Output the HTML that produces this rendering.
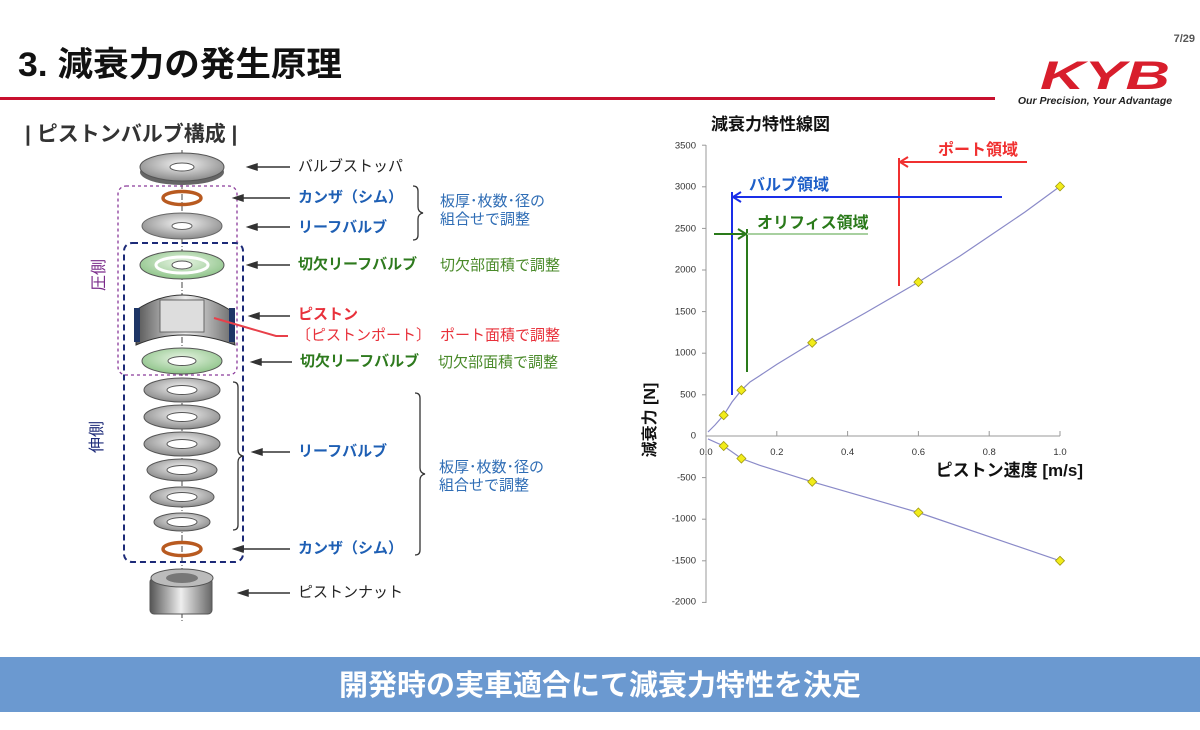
<!DOCTYPE html>
<html><head><meta charset="utf-8"><style>
html,body{margin:0;padding:0;background:#fff}
svg{display:block}
text{font-family:"Liberation Sans","Noto Sans CJK JP",sans-serif}
</style></head><body>
<svg width="1200" height="730" viewBox="0 0 1200 730" xmlns="http://www.w3.org/2000/svg">
<defs>
<radialGradient id="mg" cx="50%" cy="40%" r="60%"><stop offset="0" stop-color="#f4f4f4"/><stop offset="1" stop-color="#8a8a8a"/></radialGradient>
<radialGradient id="gg" cx="50%" cy="40%" r="60%"><stop offset="0" stop-color="#e8f5e4"/><stop offset="1" stop-color="#8fc48a"/></radialGradient>
<linearGradient id="pg" x1="0" x2="1"><stop offset="0" stop-color="#555"/><stop offset="0.5" stop-color="#eee"/><stop offset="1" stop-color="#666"/></linearGradient>
</defs>
<!-- header -->
<text x="18" y="76" font-size="34" font-weight="bold" fill="#111" textLength="324" lengthAdjust="spacingAndGlyphs">3. 減衰力の発生原理</text>
<rect x="0" y="97" width="995" height="3" fill="#c8102e"/>
<text x="1195" y="42" font-size="11" fill="#555" text-anchor="end" font-weight="bold">7/29</text>
<text x="1040" y="89" font-size="40" font-weight="bold" font-style="italic" fill="#d81e2c" textLength="130" lengthAdjust="spacingAndGlyphs">KYB</text>
<text x="1095" y="104" font-size="10.5" font-style="italic" fill="#222" text-anchor="middle" font-weight="bold">Our Precision, Your Advantage</text>
<!-- section title -->
<text x="25" y="141" font-size="21" font-weight="bold" fill="#333">| ピストンバルブ構成 |</text>

<!-- left diagram -->
<line x1="182" y1="150" x2="182" y2="622" stroke="#444" stroke-width="1" stroke-dasharray="6,2,1,2"/>
<rect x="118" y="186" width="119" height="189" rx="8" fill="none" stroke="#8a3a9a" stroke-width="1.3" stroke-dasharray="3,3"/>
<rect x="124" y="243" width="119" height="319" rx="8" fill="none" stroke="#1c2a78" stroke-width="2" stroke-dasharray="6,4"/>
<ellipse cx="182" cy="172" rx="42" ry="13" fill="#666"/>
<ellipse cx="182" cy="167" rx="42" ry="14" fill="url(#mg)" stroke="#555"/>
<ellipse cx="182" cy="167" rx="12" ry="4" fill="#fff" stroke="#555"/>
<ellipse cx="182" cy="198" rx="19" ry="6.5" fill="none" stroke="#b85a20" stroke-width="3.5"/>
<ellipse cx="182" cy="226" rx="40" ry="13" fill="url(#mg)" stroke="#666"/>
<ellipse cx="182" cy="226" rx="10" ry="3.5" fill="#fff" stroke="#666"/>
<ellipse cx="182" cy="265" rx="42" ry="14" fill="url(#gg)" stroke="#555"/>
<ellipse cx="182" cy="265" rx="26" ry="8" fill="none" stroke="#fff" stroke-width="3"/>
<ellipse cx="182" cy="265" rx="10" ry="4" fill="#fff" stroke="#555"/>
<path d="M136 310 Q182 280 230 310 L235 345 Q182 325 136 345 Z" fill="url(#pg)" stroke="#333"/>
<rect x="134" y="308" width="6" height="34" fill="#1e3566"/>
<rect x="229" y="308" width="6" height="34" fill="#1e3566"/>
<rect x="160" y="300" width="44" height="32" fill="#ddd" stroke="#666"/>
<ellipse cx="182" cy="361" rx="40" ry="13" fill="url(#gg)" stroke="#555"/>
<ellipse cx="182" cy="361" rx="14" ry="4.5" fill="#fff" stroke="#555"/>
<g stroke="#555" fill="url(#mg)">
<ellipse cx="182" cy="390" rx="38" ry="12"/><ellipse cx="182" cy="417" rx="38" ry="12"/>
<ellipse cx="182" cy="444" rx="38" ry="12"/><ellipse cx="182" cy="470" rx="35" ry="11"/>
<ellipse cx="182" cy="497" rx="32" ry="10"/><ellipse cx="182" cy="522" rx="28" ry="9"/>
</g>
<g stroke="#555" fill="#fff">
<ellipse cx="182" cy="390" rx="15" ry="4.5"/><ellipse cx="182" cy="417" rx="15" ry="4.5"/>
<ellipse cx="182" cy="444" rx="15" ry="4.5"/><ellipse cx="182" cy="470" rx="15" ry="4.5"/>
<ellipse cx="182" cy="497" rx="15" ry="4.5"/><ellipse cx="182" cy="522" rx="15" ry="4.5"/>
</g>
<ellipse cx="182" cy="549" rx="19" ry="6.5" fill="none" stroke="#b85a20" stroke-width="3.5"/>
<rect x="150" y="578" width="62" height="36" rx="4" fill="url(#pg)" stroke="#555"/>
<ellipse cx="182" cy="578" rx="31" ry="9" fill="#bbb" stroke="#555"/>
<ellipse cx="182" cy="578" rx="16" ry="5" fill="#777"/>

<text x="100" y="275" font-size="16" fill="#7a2a8a" text-anchor="middle" transform="rotate(-90 100 275)" dominant-baseline="middle">圧側</text>
<text x="98" y="437" font-size="16" fill="#1c2a78" text-anchor="middle" transform="rotate(-90 98 437)" dominant-baseline="middle">伸側</text>

<g stroke="#333" stroke-width="1.5" fill="#333">
<line x1="256" y1="167" x2="290" y2="167"/><path d="M248 167 l9 -3 v6z"/>
<line x1="240" y1="198" x2="290" y2="198"/><path d="M234 198 l9 -3 v6z"/>
<line x1="256" y1="227" x2="290" y2="227"/><path d="M248 227 l9 -3 v6z"/>
<line x1="256" y1="265" x2="290" y2="265"/><path d="M248 265 l9 -3 v6z"/>
<line x1="258" y1="316" x2="290" y2="316"/><path d="M250 316 l9 -3 v6z"/>
<line x1="260" y1="362" x2="292" y2="362"/><path d="M252 362 l9 -3 v6z"/>
<line x1="261" y1="452" x2="290" y2="452"/><path d="M253 452 l9 -3 v6z"/>
<line x1="240" y1="549" x2="290" y2="549"/><path d="M234 549 l9 -3 v6z"/>
<line x1="247" y1="593" x2="290" y2="593"/><path d="M239 593 l9 -3 v6z"/>
</g>
<path d="M288 336 H276 L214 318" stroke="#e8404a" stroke-width="2" fill="none"/>
<path d="M413 186 q5 0 5 5 v16 q0 5 5 6 q-5 1 -5 6 v16 q0 5 -5 5" stroke="#333" fill="none" stroke-width="1.3"/>
<path d="M233 382 q5 0 5 5 v63 q0 5 5 6 q-5 1 -5 6 v63 q0 5 -5 5" stroke="#333" fill="none" stroke-width="1.3"/>
<path d="M415 393 q5 0 5 5 v70 q0 5 5 6 q-5 1 -5 6 v70 q0 5 -5 5" stroke="#333" fill="none" stroke-width="1.3"/>

<g font-size="15" dominant-baseline="middle">
<text x="298" y="167" fill="#222">バルブストッパ</text>
<text x="298" y="198" fill="#1e5fb4" font-weight="bold">カンザ（シム）</text>
<text x="298" y="228" fill="#1e5fb4" font-weight="bold">リーフバルブ</text>
<text x="298" y="265" fill="#2e7a1e" font-weight="bold">切欠リーフバルブ</text>
<text x="298" y="315" fill="#e8303a" font-weight="bold">ピストン</text>
<text x="296" y="336" fill="#e8303a">〔ピストンポート〕</text>
<text x="300" y="362" fill="#2e7a1e" font-weight="bold">切欠リーフバルブ</text>
<text x="298" y="452" fill="#1e5fb4" font-weight="bold">リーフバルブ</text>
<text x="298" y="549" fill="#1e5fb4" font-weight="bold">カンザ（シム）</text>
<text x="298" y="593" fill="#222">ピストンナット</text>
<text x="440" y="202" fill="#2f6db5">板厚･枚数･径の</text>
<text x="440" y="220" fill="#2f6db5">組合せで調整</text>
<text x="440" y="266" fill="#4a8a2a">切欠部面積で調整</text>
<text x="440" y="336" fill="#e8303a">ポート面積で調整</text>
<text x="438" y="363" fill="#4a8a2a">切欠部面積で調整</text>
<text x="439" y="468" fill="#2f6db5">板厚･枚数･径の</text>
<text x="439" y="486" fill="#2f6db5">組合せで調整</text>
</g>

<!-- chart -->
<text x="711" y="130" font-size="17" font-weight="bold" fill="#111">減衰力特性線図</text>
<g stroke="#999" stroke-width="1">
<line x1="706" y1="145" x2="706" y2="603"/>
<line x1="706" y1="436" x2="1060" y2="436"/>
<line x1="702" y1="145.2" x2="706" y2="145.2"/><line x1="702" y1="186.8" x2="706" y2="186.8"/>
<line x1="702" y1="228.4" x2="706" y2="228.4"/><line x1="702" y1="270" x2="706" y2="270"/>
<line x1="702" y1="311.6" x2="706" y2="311.6"/><line x1="702" y1="353.2" x2="706" y2="353.2"/>
<line x1="702" y1="394.8" x2="706" y2="394.8"/><line x1="702" y1="477.6" x2="706" y2="477.6"/>
<line x1="702" y1="519.2" x2="706" y2="519.2"/><line x1="702" y1="560.8" x2="706" y2="560.8"/>
<line x1="702" y1="602.4" x2="706" y2="602.4"/>
<line x1="776.8" y1="431" x2="776.8" y2="436"/><line x1="847.6" y1="431" x2="847.6" y2="436"/>
<line x1="918.4" y1="431" x2="918.4" y2="436"/><line x1="989.2" y1="431" x2="989.2" y2="436"/>
<line x1="1060" y1="431" x2="1060" y2="436"/>
</g>
<g font-size="9.5" fill="#333" text-anchor="end" dominant-baseline="middle">
<text x="696" y="146">3500</text><text x="696" y="187">3000</text><text x="696" y="229">2500</text>
<text x="696" y="270">2000</text><text x="696" y="312">1500</text><text x="696" y="353">1000</text>
<text x="696" y="395">500</text><text x="696" y="436">0</text><text x="696" y="478">-500</text>
<text x="696" y="519">-1000</text><text x="696" y="561">-1500</text><text x="696" y="602">-2000</text>
</g>
<g font-size="9.5" fill="#333" text-anchor="middle">
<text x="706" y="455">0.0</text><text x="776.8" y="455">0.2</text><text x="847.6" y="455">0.4</text>
<text x="918.4" y="455">0.6</text><text x="989.2" y="455">0.8</text><text x="1060" y="455">1.0</text>
</g>
<text x="1083" y="476" font-size="17" font-weight="bold" fill="#111" text-anchor="end">ピストン速度 [m/s]</text>
<text x="651" y="420" font-size="16" font-weight="bold" fill="#111" text-anchor="middle" transform="rotate(-90 651 420)" dominant-baseline="middle">減衰力 [N]</text>

<polyline fill="none" stroke="#8a8ac8" stroke-width="1.2" points="708,432 715,425 723.7,415.2 732,402 741.4,390.2 750,382 759.1,376.1 776.8,364.4 812.2,342.8 865.3,312.9 918.4,282.1 960,256 989.2,236.3 1025,212 1060,186.4"/>
<polyline fill="none" stroke="#8a8ac8" stroke-width="1.2" points="708,438.9 723.7,446 741.4,458.5 759.1,465.1 812.2,481.8 918.4,512.5 1060,560.8"/>
<g fill="#f2ec1a" stroke="#a09a10" stroke-width="0.8">
<path d="M723.7 410.7 l4.5 4.5 l-4.5 4.5 l-4.5 -4.5z"/><path d="M741.4 385.7 l4.5 4.5 l-4.5 4.5 l-4.5 -4.5z"/>
<path d="M812.2 338.3 l4.5 4.5 l-4.5 4.5 l-4.5 -4.5z"/><path d="M918.4 277.6 l4.5 4.5 l-4.5 4.5 l-4.5 -4.5z"/>
<path d="M1060 181.9 l4.5 4.5 l-4.5 4.5 l-4.5 -4.5z"/>
<path d="M723.7 441.5 l4.5 4.5 l-4.5 4.5 l-4.5 -4.5z"/><path d="M741.4 454 l4.5 4.5 l-4.5 4.5 l-4.5 -4.5z"/>
<path d="M812.2 477.3 l4.5 4.5 l-4.5 4.5 l-4.5 -4.5z"/><path d="M918.4 508 l4.5 4.5 l-4.5 4.5 l-4.5 -4.5z"/>
<path d="M1060 556.3 l4.5 4.5 l-4.5 4.5 l-4.5 -4.5z"/>
</g>
<g stroke-width="2" fill="none">
<line x1="899" y1="158" x2="899" y2="286" stroke="#f03030"/>
<line x1="899" y1="162" x2="1027" y2="162" stroke="#f03030"/>
<path d="M908 157 L900 162 L908 167" stroke="#f03030"/>
<line x1="732" y1="192" x2="732" y2="395" stroke="#1a2ee8"/>
<line x1="732" y1="197" x2="1002" y2="197" stroke="#1a2ee8"/>
<path d="M741 192 L733 197 L741 202" stroke="#1a2ee8"/>
<line x1="747" y1="229" x2="747" y2="372" stroke="#2a7a1a"/>
<line x1="714" y1="234" x2="746" y2="234" stroke="#2a7a1a"/>
<path d="M738 229 L746 234 L738 239" stroke="#2a7a1a"/>
<line x1="747" y1="234" x2="868" y2="234" stroke="#a8d0a0"/>
</g>
<text x="938" y="155" font-size="16" font-weight="bold" fill="#f03030">ポート領域</text>
<text x="749" y="190" font-size="16" font-weight="bold" fill="#1e5fc8">バルブ領域</text>
<text x="757" y="228" font-size="16" font-weight="bold" fill="#2a7a1a">オリフィス領域</text>

<!-- banner -->
<rect x="0" y="657" width="1200" height="55" fill="#6b99d0"/>
<text x="600" y="695" font-size="29" font-weight="bold" fill="#fff" text-anchor="middle">開発時の実車適合にて減衰力特性を決定</text>
</svg>
</body></html>
